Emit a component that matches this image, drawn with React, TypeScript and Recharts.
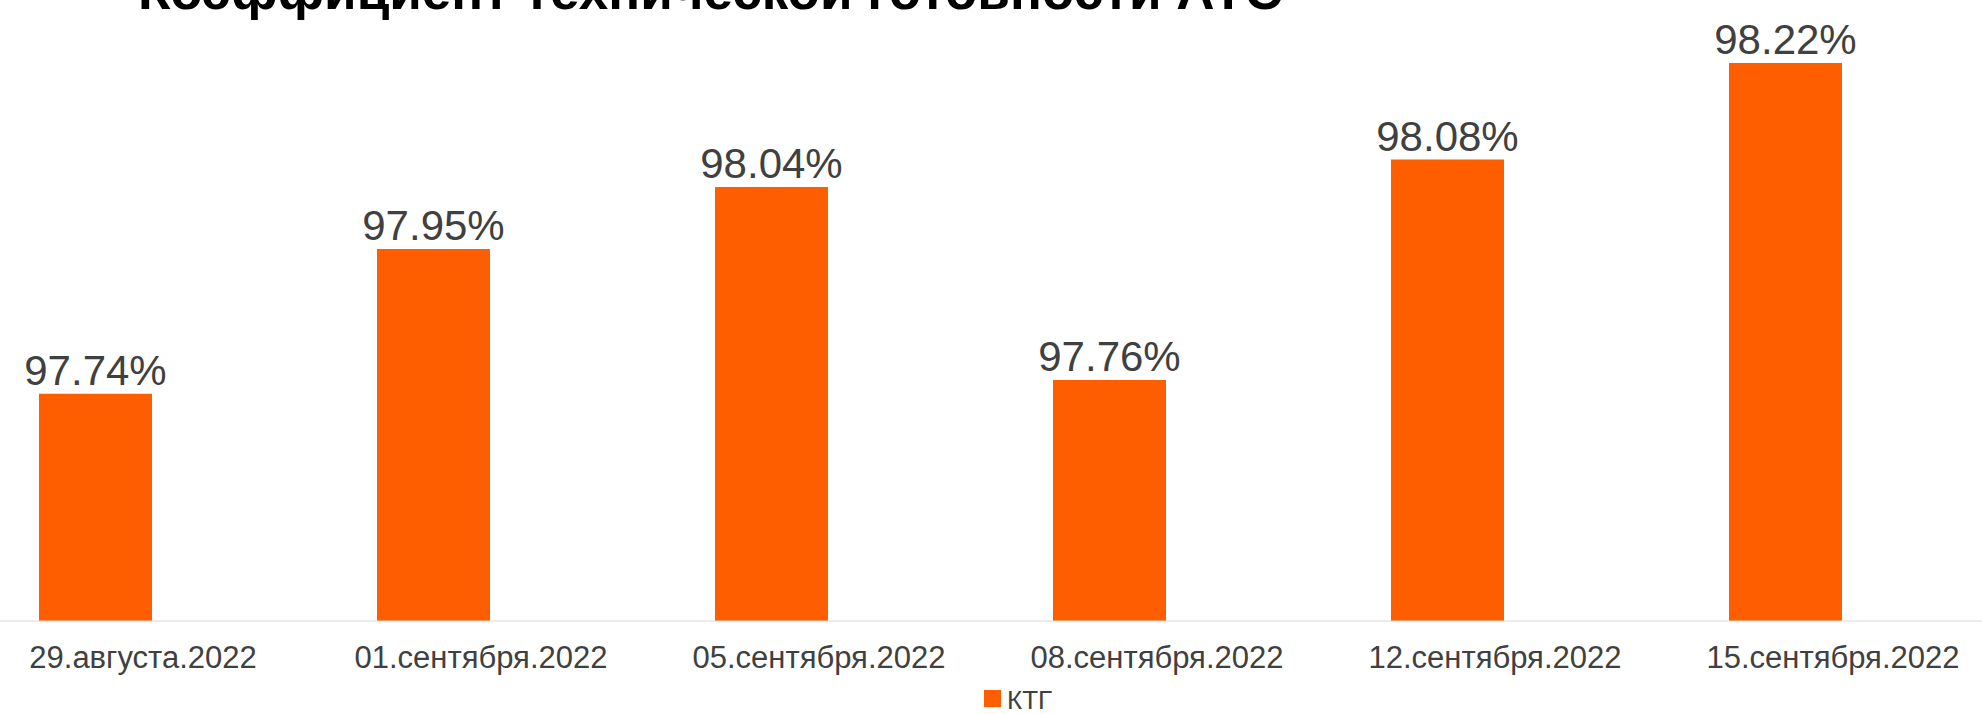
import { Bar, BarChart, LabelList, Legend, XAxis, YAxis } from 'recharts';

const categories = [
  '29.августа.2022',
  '01.сентября.2022',
  '05.сентября.2022',
  '08.сентября.2022',
  '12.сентября.2022',
  '15.сентября.2022',
];
const ktg = [97.74, 97.95, 98.04, 97.76, 98.08, 98.22];
const yDomain = [97.41, 98.3];
const title = 'Коэффициент технической готовности АТС';

const data = categories.map((date, i) => ({ date, ktg: ktg[i] }));

const FONT = '"Liberation Sans", Arial, sans-serif';
const ORANGE = '#FF5E00';
const TEXT = '#404040';

// labels sit to the right of the bars (empty second series in the source chart)
function DateTick({ x, y, payload }: any) {
  return (
    <text x={x + 48} y={y} dy={39} textAnchor="middle" fontSize={31} fill={TEXT} fontFamily={FONT}>
      {payload.value}
    </text>
  );
}

function KtgLegend() {
  return (
    <svg width={120} height={35}>
      <rect x={0} y={11} width={17} height={17} fill={ORANGE} />
      <text x={23} y={30} fontSize={26} fill={TEXT} fontFamily={FONT}>
        КТГ
      </text>
    </svg>
  );
}

export default function App() {
  return (
    <div style={{ position: 'absolute', top: 0, left: 0, width: 1982, height: 714, overflow: 'hidden', background: '#fff' }}>
      <svg style={{ position: 'absolute', top: 0, left: 0 }} width={1982} height={40}>
        <text x={138} y={9} fontSize={53} fontWeight="bold" fill="#000" fontFamily={FONT}>
          {title}
        </text>
      </svg>
      <div style={{ position: 'absolute', top: 0, left: -74 }}>
        <BarChart width={2088} height={714} data={data} barSize={113} margin={{ top: 8, right: 0, bottom: 0, left: 0 }}>
          <XAxis
            dataKey="date"
            axisLine={{ stroke: '#d9d9d9' }}
            tickLine={false}
            height={58}
            interval={0}
            padding={{ left: 0, right: 60 }}
            tick={<DateTick />}
          />
          <YAxis hide domain={yDomain} allowDataOverflow />
          <Legend
            verticalAlign="bottom"
            content={<KtgLegend />}
            wrapperStyle={{ left: 1058, bottom: 0, width: 120, height: 35 }}
          />
          <Bar dataKey="ktg" name="КТГ" fill={ORANGE} isAnimationActive={false}>
            <LabelList
              dataKey="ktg"
              position="top"
              offset={9}
              formatter={(v: any) => `${Number(v).toFixed(2)}%`}
              fontSize={42}
              fill={TEXT}
              fontFamily={FONT}
            />
          </Bar>
        </BarChart>
      </div>
    </div>
  );
}
